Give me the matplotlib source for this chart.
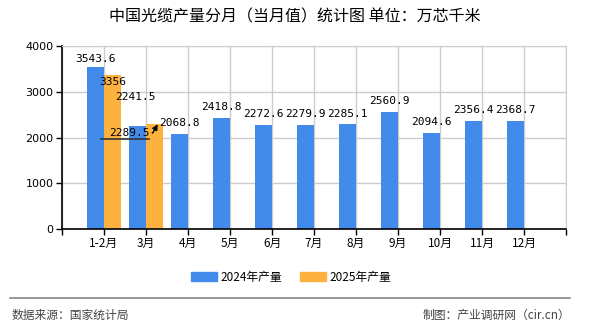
import matplotlib
matplotlib.use("Agg")
import matplotlib.pyplot as plt
import numpy as np

plt.rcParams['font.family'] = ['Noto Sans CJK SC', 'DejaVu Sans']

categories = ['1-2月', '3月', '4月', '5月', '6月', '7月', '8月', '9月', '10月', '11月', '12月']
values_2024 = [3543.6, 2241.5, 2068.8, 2418.8, 2272.6, 2279.9, 2285.1, 2560.9, 2094.6, 2356.4, 2368.7]
values_2025 = [3356, 2289.5]
yticks = [0, 1000, 2000, 3000, 4000]

blue = '#428BEA'
orange = '#FDB240'

fig = plt.figure(figsize=(5.9, 3.3), dpi=100)
ax = fig.add_axes([62/590, 1-229/330, 504/590, 183/330])

x = np.arange(len(categories))
w = 0.4
ax.bar(x - w/2, values_2024, width=w, color=blue, label='2024年产量', zorder=2)
x25 = np.arange(len(values_2025))
ax.bar(x25 + w/2, values_2025, width=w, color=orange, label='2025年产量', zorder=2)

ax.set_xlim(-1, len(categories))
ax.set_ylim(0, 4000)
ax.set_yticks(yticks)
ax.set_yticklabels([str(v) for v in yticks], fontsize=8, family='DejaVu Sans')
ax.set_xticks(np.arange(-1, len(categories) + 1))
ax.set_xticklabels([''] + categories + [''], fontsize=8.5)
ax.tick_params(axis='both', direction='out', length=4, width=1, color='black', pad=2)
ax.grid(True, color='#cccccc', linewidth=1, zorder=0)
for s in ['top', 'right']:
    ax.spines[s].set_color('#cccccc')
for s in ['left', 'bottom']:
    ax.spines[s].set_color('black')
    ax.spines[s].set_linewidth(1.2)
ax.set_axisbelow(True)

mono = 'DejaVu Sans Mono'
for i, v in enumerate(values_2024):
    if i == 0:
        ax.text(i - w/2, v + 60, f'{v:g}', ha='center', va='bottom', fontsize=8, family=mono, zorder=3)
    elif i == 1:
        ax.text(i - w/2 - 0.05, v + 530, f'{v:g}', ha='center', va='bottom', fontsize=8, family=mono, zorder=3)
    else:
        ax.text(i - w/2, v + 130, f'{v:g}', ha='center', va='bottom', fontsize=8, family=mono, zorder=3)
# 2025 labels
ax.text(0 + w/2, values_2025[0] - 30, f'{values_2025[0]:g}', ha='center', va='top', fontsize=8, family=mono, zorder=3)
ax.annotate(f'{values_2025[1]:g}', xy=(1 + 0.28, values_2025[1]), xytext=(0.6, 1990),
            ha='center', va='bottom', fontsize=8, family=mono, zorder=4,
            arrowprops=dict(arrowstyle='-|>', color='black', lw=1,
                            connectionstyle='angle,angleA=0,angleB=60,rad=0',
                            shrinkA=0, shrinkB=0, mutation_scale=8))
ax.plot([-0.08, 1.08], [1960, 1960], color='#333333', lw=1.2, zorder=4)

fig.text(0.5, 1-17/330, '中国光缆产量分月（当月值）统计图 单位：万芯千米', ha='center', va='center', fontsize=11.5)

handles = [plt.Rectangle((0, 0), 1, 1, color=blue), plt.Rectangle((0, 0), 1, 1, color=orange)]
fig.legend(handles, ['2024年产量', '2025年产量'], loc='center', bbox_to_anchor=(291/590, 1-277/330),
           ncol=2, frameon=False, fontsize=8.5, handlelength=2.2, handleheight=0.8, columnspacing=1.5,
           handletextpad=0.3)

fig.add_artist(plt.Line2D([10/590, 570/590], [1-298/330, 1-298/330], color='#888888', lw=1.2))
fig.text(12/590, 1-315/330, '数据来源：国家统计局', ha='left', va='center', fontsize=8.5, color='#444444')
fig.text(570/590, 1-315/330, '制图：产业调研网（cir.cn）', ha='right', va='center', fontsize=8.5, color='#444444')

fig.savefig('out.png', dpi=100)
